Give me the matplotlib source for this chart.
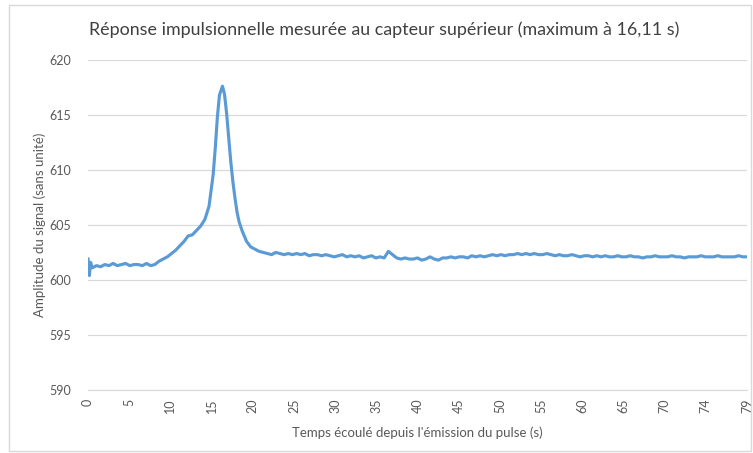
import matplotlib.pyplot as plt
from matplotlib.patches import Rectangle

plt.rcParams['font.family'] = ['Lato', 'DejaVu Sans']

# Temps (s) et amplitude mesurée au capteur supérieur
temps = [
    0.0, 0.15, 0.3, 0.5, 1.0, 1.5, 2.0, 2.5, 3.0, 3.5, 4.0, 4.5, 5.0, 5.5, 6.0, 6.5,
    7.0, 7.5, 8.0, 8.5, 9.0, 9.5, 10.0, 10.5, 11.0, 11.5, 12.0, 12.5, 13.0, 13.5,
    14.0, 14.5, 15.0, 15.25, 15.5, 15.75, 16.11, 16.35, 16.6, 16.85, 17.1, 17.35,
    17.6, 17.85, 18.1, 18.5, 19.0, 19.5, 20.0, 20.5, 21.0, 21.5, 22.0, 22.5, 23.0,
    23.5, 24.0, 24.5, 25.0, 25.5, 26.0, 26.5, 27.0, 27.5, 28.0, 28.5, 29.0, 29.5,
    30.0, 30.5, 31.0, 31.5, 32.0, 32.5, 33.0, 33.5, 34.0, 34.5, 35.0, 35.5, 36.0,
    36.5, 37.0, 37.5, 38.0, 38.5, 39.0, 39.5, 40.0, 40.5, 41.0, 41.5, 42.0, 42.5,
    43.0, 43.5, 44.0, 44.5, 45.0, 45.5, 46.0, 46.5, 47.0, 47.5, 48.0, 48.5, 49.0,
    49.5, 50.0, 50.5, 51.0, 51.5, 52.0, 52.5, 53.0, 53.5, 54.0, 54.5, 55.0, 55.5,
    56.0, 56.5, 57.0, 57.5, 58.0, 58.5, 59.0, 59.5, 60.0, 60.5, 61.0, 61.5, 62.0,
    62.5, 63.0, 63.5, 64.0, 64.5, 65.0, 65.5, 66.0, 66.5, 67.0, 67.5, 68.0, 68.5,
    69.0, 69.5, 70.0, 70.5, 71.0, 71.5, 72.0, 72.5, 73.0, 73.5, 74.0, 74.5, 75.0,
    75.5, 76.0, 76.5, 77.0, 77.5, 78.0, 78.5, 79.0,
]
amplitude = [
    601.9, 600.4, 601.6, 601.1, 601.3, 601.2, 601.4, 601.3, 601.5, 601.3, 601.4, 601.5,
    601.3, 601.4, 601.4, 601.3, 601.5, 601.3, 601.4, 601.7, 601.9, 602.1, 602.4, 602.7,
    603.1, 603.5, 604.0, 604.1, 604.5, 604.9, 605.5, 606.7, 609.6, 612.0, 614.8, 616.8,
    617.6, 616.9, 615.2, 613.0, 610.8, 609.0, 607.5, 606.2, 605.3, 604.4, 603.5, 603.0,
    602.8, 602.6, 602.5, 602.4, 602.3, 602.5, 602.4, 602.3, 602.4, 602.3, 602.4, 602.3,
    602.4, 602.2, 602.3, 602.3, 602.2, 602.3, 602.2, 602.1, 602.2, 602.3, 602.1, 602.2,
    602.1, 602.2, 602.0, 602.1, 602.2, 602.0, 602.1, 602.0, 602.6, 602.3, 602.0, 601.9,
    602.0, 601.9, 601.9, 602.0, 601.8, 601.9, 602.1, 601.9, 601.8, 602.0, 602.0, 602.1,
    602.0, 602.1, 602.1, 602.0, 602.2, 602.1, 602.2, 602.1, 602.2, 602.3, 602.2, 602.3,
    602.2, 602.3, 602.3, 602.4, 602.3, 602.4, 602.3, 602.4, 602.3, 602.3, 602.4, 602.3,
    602.2, 602.3, 602.2, 602.2, 602.3, 602.2, 602.1, 602.2, 602.2, 602.1, 602.2, 602.1,
    602.2, 602.1, 602.1, 602.2, 602.1, 602.1, 602.2, 602.1, 602.1, 602.0, 602.1, 602.1,
    602.2, 602.1, 602.1, 602.1, 602.2, 602.1, 602.1, 602.0, 602.1, 602.1, 602.1, 602.2,
    602.1, 602.1, 602.1, 602.2, 602.1, 602.1, 602.1, 602.1, 602.2, 602.1, 602.1,
]

etiquettes_x = ['0', '5', '10', '15', '20', '25', '30', '35', '40', '45', '50',
                '55', '60', '65', '70', '74', '79']
graduations_y = [590, 595, 600, 605, 610, 615, 620]

gris_texte = '#595959'
gris_grille = '#D9D9D9'
bleu = '#5B9BD5'

fig = plt.figure(figsize=(7.53, 4.53), dpi=100)
fig.patches.append(Rectangle((0.012, 0.004), 0.985, 0.985, transform=fig.transFigure,
                             fill=False, edgecolor='#D9D9D9', linewidth=1.0))
ax = fig.add_axes([0.117, 0.139, 0.875, 0.729])

ax.plot(temps, amplitude, color=bleu, linewidth=2.25, solid_joinstyle='round')

ax.set_xlim(0, 79)
ax.set_ylim(590, 620)
ax.set_yticks(graduations_y)
ax.set_yticklabels([str(v) for v in graduations_y])
# axe de catégories : étiquettes régulièrement espacées
pos_x = [i * 79 / (len(etiquettes_x) - 1) for i in range(len(etiquettes_x))]
ax.set_xticks(pos_x)
ax.set_xticklabels(etiquettes_x, rotation=90)

ax.grid(axis='y', color=gris_grille, linewidth=0.9)
ax.set_axisbelow(True)
for s in ['top', 'right', 'left']:
    ax.spines[s].set_visible(False)
ax.spines['bottom'].set_color(gris_grille)
ax.tick_params(axis='both', length=0, colors=gris_texte, labelsize=9)
ax.tick_params(axis='y', pad=12)
ax.tick_params(axis='x', pad=6)

ax.set_xlabel("Temps écoulé depuis l'émission du pulse (s)", color=gris_texte,
              fontsize=9.5, labelpad=10)
ax.set_ylabel('Amplitude du signal (sans unité)', color=gris_texte, fontsize=9.5,
              labelpad=3)
fig.text(0.51, 0.934, 'Réponse impulsionnelle mesurée au capteur supérieur (maximum à 16,11 s)',
         ha='center', va='center', color='#404040', fontsize=12.9)

fig.savefig('out.png', dpi=100)
